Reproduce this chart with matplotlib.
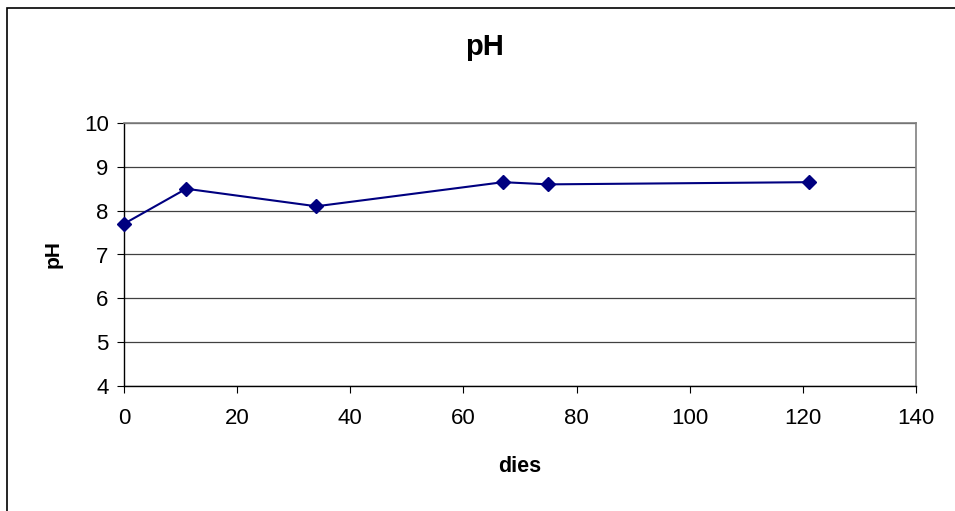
import matplotlib
matplotlib.use("Agg")
import matplotlib.pyplot as plt
from matplotlib.patches import Rectangle

plt.rcParams['font.family'] = ['Liberation Sans', 'DejaVu Sans']

dies = [0, 11, 34, 67, 75, 121]
ph = [7.7, 8.5, 8.1, 8.65, 8.6, 8.65]
title = "pH"
xlabel = "dies"
ylabel = "pH"

W, H = 955, 511
fig = plt.figure(figsize=(W / 100, H / 100), dpi=100)
fig.patches.append(Rectangle((7 / W, -0.1), 1.2, 1 - 8 / H + 0.1, transform=fig.transFigure,
                             fill=False, edgecolor='black', linewidth=1.2))

ax = fig.add_axes([124 / W, 1 - 386 / H, (916 - 124) / W, (386 - 123) / H])
ax.plot(dies, ph, color='#000080', linewidth=1.5, marker='D', markersize=7.5,
        markerfacecolor='#000080', markeredgecolor='#000080', zorder=3, clip_on=False)
ax.set_xlim(0, 140)
ax.set_ylim(4, 10)
ax.set_xticks(range(0, 141, 20))
ax.set_yticks(range(4, 11, 1))
ax.yaxis.grid(True, color='#404040', linewidth=0.9)
ax.set_axisbelow(True)
for s in ['top', 'right']:
    ax.spines[s].set_color('#808080')
    ax.spines[s].set_linewidth(1.2)
for s in ['left', 'bottom']:
    ax.spines[s].set_color('black')
    ax.spines[s].set_linewidth(1.0)
ax.tick_params(axis='both', direction='out', length=5, labelsize=16, color='black')
ax.tick_params(axis='x', pad=11)
ax.tick_params(axis='y', pad=6)

fig.suptitle(title, x=485 / W, y=1 - 47 / H, va='center', ha='center',
             fontsize=21, fontweight='bold')
ax.set_xlabel(xlabel, fontsize=15.5, fontweight='bold', va='center')
ax.xaxis.set_label_coords(0.5, (386 - 467) / (386 - 123))
ax.set_ylabel(ylabel, fontsize=15, fontweight='bold', va='center')
ax.yaxis.set_label_coords((53 - 124) / (916 - 124), 0.5)

fig.savefig("out.png", dpi=100)
